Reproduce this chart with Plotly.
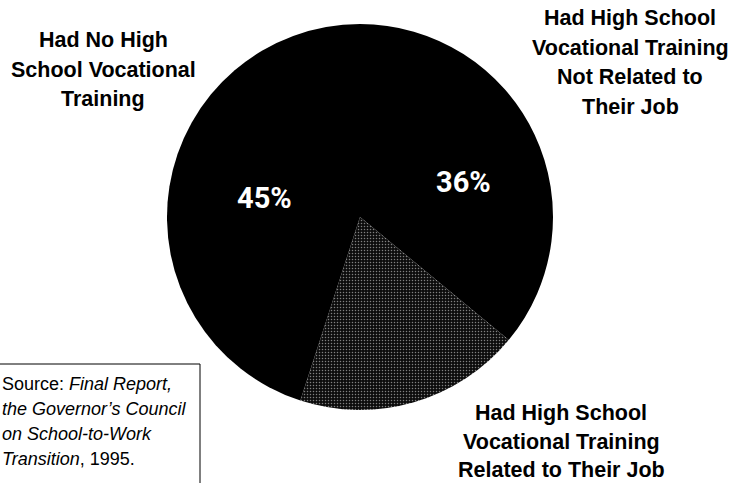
import plotly.graph_objects as go

W, H = 733, 483

# ---- data ----
categories = [
    "Had High School Vocational Training Not Related to Their Job",
    "Had High School Vocational Training Related to Their Job",
    "Had No High School Vocational Training",
]
values = [36, 19, 45]
show_pct = [True, False, True]
label_lines = [
    ["Had High School", "Vocational Training", "Not Related to", "Their Job"],
    ["Had High School", "Vocational Training", "Related to Their Job"],
    ["Had No High", "School Vocational", "Training"],
]
source_lines = [
    "Source: <i>Final Report,</i>",
    "<i>the Governor’s Council</i>",
    "<i>on School-to-Work</i>",
    "<i>Transition</i>, 1995.",
]

# ---- layout helpers (pixel -> paper) ----
def px(x):
    return x / W

def py(y):
    return 1 - y / H

cx, cy, r = 360, 217, 193

fig = go.Figure(
    go.Pie(
        labels=categories,
        values=values,
        sort=False,
        direction="clockwise",
        rotation=0,
        textinfo="none",
        hoverinfo="label+percent",
        showlegend=False,
        marker=dict(
            colors=["#000000", "#262626", "#000000"],
            line=dict(width=0),
            pattern=dict(
                shape=["", ".", ""],
                fgcolor="#808080",
                bgcolor="#0c0c0c",
                size=3,
                solidity=0.2,
            ),
        ),
        domain=dict(x=[px(cx - r), px(cx + r)], y=[py(cy + r), py(cy - r)]),
    )
)

annotations = []
# percentage labels inside the black slices
pct_pos = [(463, 182), None, (264, 198)]
for v, show, pos in zip(values, show_pct, pct_pos):
    if show and pos:
        annotations.append(dict(
            x=px(pos[0]), y=py(pos[1]), xref="paper", yref="paper",
            text=f"{v}%", showarrow=False, xanchor="center", yanchor="middle",
            font=dict(family="Roboto, Liberation Sans", size=29, color="white", weight="bold"),
        ))

# outer category labels: (center x, first line y, line step)
label_pos = [(630, 18, 29.7), (561, 413, 28.5), (103, 40, 29.5)]
for lines, (lx, ly, step) in zip(label_lines, label_pos):
    for i, line in enumerate(lines):
        annotations.append(dict(
            x=px(lx), y=py(ly + i * step), xref="paper", yref="paper",
            text=f"<b>{line}</b>", showarrow=False,
            xanchor="center", yanchor="middle", align="center",
            font=dict(family="Liberation Sans, Arial", size=21.5, color="black"),
        ))

# source note
for i, line in enumerate(source_lines):
    annotations.append(dict(
        x=px(0), y=py(384 + i * 25), xref="paper", yref="paper",
        text=line, showarrow=False,
        xanchor="left", yanchor="middle", align="left",
        font=dict(family="Liberation Sans, Arial", size=18, color="black"),
    ))

shapes = [dict(
    type="rect", xref="paper", yref="paper",
    x0=px(-10), x1=px(200), y0=py(500), y1=py(364),
    line=dict(color="black", width=1), fillcolor="rgba(0,0,0,0)",
)]

fig.update_layout(
    width=W, height=H,
    margin=dict(l=0, r=0, t=0, b=0),
    paper_bgcolor="white", plot_bgcolor="white",
    annotations=annotations, shapes=shapes,
)

fig.write_html("out.html", config={"displayModeBar": False},
               post_script="document.body.style.margin='0';")
